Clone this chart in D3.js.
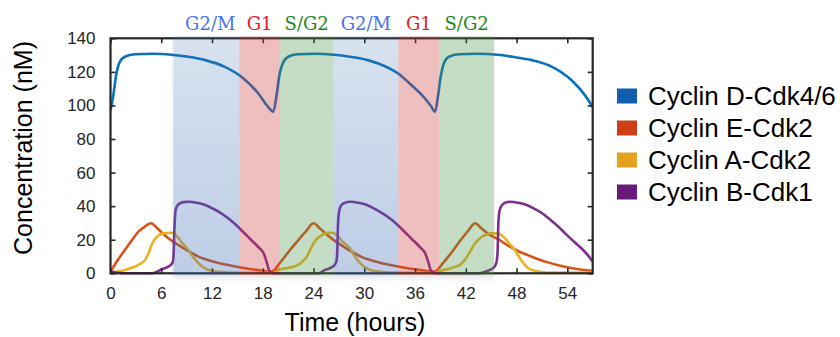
<!DOCTYPE html>
<html>
<head>
<meta charset="utf-8">
<script src="https://cdn.jsdelivr.net/npm/d3@7"></script>
<style>
  body { margin: 0; background: #fff; }
  svg { display: block; }
  text { font-family: "Liberation Sans", Arial, Helvetica, sans-serif; }
</style>
</head>
<body>
<svg id="chart" width="840" height="337"></svg>
<script>
// values: [hour, nM]
const cyclinD = [
  [0, 97], [0.3, 105], [0.7, 119], [1.1, 126], [1.7, 129], [2.9, 130.5], [5, 130.8],
  [7.2, 130.2], [9.2, 129], [11.2, 127], [13.5, 123], [15.5, 117], [17.5, 107],
  [18.65, 99], [19.25, 96.3],
  [19.6, 105], [20.0, 119], [20.4, 125.5], [21.0, 129], [22.1, 130.5], [24.2, 130.8],
  [26.4, 130.2], [28.3, 129], [30.4, 127], [31.65, 125], [34.0, 119], [35.6, 112],
  [37.2, 104], [37.9, 99.5], [38.36, 96.3],
  [38.7, 105], [39.0, 116], [39.4, 125], [40.0, 129], [41.2, 130.5], [43.3, 130.8],
  [45.8, 130.2], [47.5, 129], [49.8, 127], [52.2, 123], [54.5, 115], [56.1, 106], [57, 99]
];
const cyclinE = [
  [0, 1], [0.8, 7.5], [1.7, 13.9], [2.5, 19.5], [3.3, 24.8], [4.1, 28], [4.8, 29.8],
  [5.5, 27], [6.25, 23.4], [7.0, 20.3], [8.0, 16.9], [9.2, 13.2], [10.4, 9.9], [12, 7.2],
  [13.9, 4.9], [15.9, 3], [17.5, 1.9], [19.05, 1],
  [20.0, 6], [20.6, 9.9], [21.4, 15], [22.2, 19.8], [23.1, 25], [24.0, 29.8], [24.7, 27],
  [25.4, 23.8], [26.2, 20.5], [27.2, 16.9], [28.4, 13.2], [29.6, 9.9], [31.2, 7.2],
  [33.1, 4.9], [35.1, 3], [36.7, 1.9], [38.3, 1],
  [39.3, 6], [40.1, 11], [41.4, 19.8], [42.3, 25.5], [43.1, 29.8], [43.9, 26.5],
  [44.8, 23], [45.8, 20.3], [47.0, 16.5], [48.3, 13], [49.8, 9.9], [51.5, 6.8],
  [53.7, 3.9], [55.5, 2.3], [57, 1.5]
];
const cyclinA = [
  [0, 0.5], [1.7, 2], [3.3, 5], [4.1, 8], [4.5, 12], [4.9, 17.5], [5.5, 21.8], [6.25, 23.8],
  [7.2, 24.2], [7.8, 22.2], [8.5, 18], [9.2, 13.9], [9.8, 9.5], [10.4, 6], [11.0, 3.5],
  [11.6, 2], [12.5, 1], [13.9, 0.5], [19.1, 0.3],
  [19.8, 2], [21.0, 3.2], [22.2, 5], [22.8, 7.5], [23.2, 9.9], [23.6, 14], [24.0, 17.9],
  [24.5, 21], [25.0, 22.8], [25.6, 24], [26.2, 24.2], [26.8, 22.5], [27.5, 18.5],
  [28.3, 14.9], [28.9, 10], [29.5, 6], [30.1, 3.5], [30.7, 2], [31.6, 1], [33, 0.5], [38.3, 0.3],
  [39.0, 1.5], [40.3, 3.2], [41.3, 5], [41.9, 8], [42.4, 12], [43.1, 17.9], [43.7, 21],
  [44.3, 22.8], [45.0, 23.8], [45.8, 23.8], [46.4, 22], [47.1, 18], [47.8, 13.9],
  [48.5, 8], [49.4, 3], [50.3, 1.3], [51.5, 0.5], [57, 0.3]
];
const cyclinB = [
  [0, 1.2], [0.8, 0.3], [2, 0], [4.9, 0], [6.05, 2.4], [7.0, 4.5], [7.35, 6.5], [7.45, 10],
  [7.55, 25.8], [7.7, 37.7], [8.0, 41], [8.6, 42.4], [9.2, 42.6], [10.2, 42], [11.2, 40.7],
  [12.2, 38.3], [13.1, 35.7], [14.1, 32], [15.0, 28], [15.8, 24], [16.5, 20.5], [17.1, 17.6],
  [17.6, 15], [18.1, 11.9], [18.35, 8.5], [18.5, 6], [18.7, 2.5], [18.85, 1], [19.4, 0],
  [24.6, 0], [25.35, 2], [26.3, 4], [26.7, 7], [26.8, 12], [26.9, 30], [27.05, 37.5],
  [27.3, 40.7], [27.8, 42.2], [28.3, 42.6], [29.3, 42], [30.3, 40.7], [31.3, 38.2],
  [32.2, 35.5], [33.2, 32], [34.1, 28], [34.9, 24], [35.6, 20.5], [36.2, 17.6],
  [36.7, 15], [37.2, 11.9], [37.45, 8.5], [37.6, 6], [37.8, 2.5], [37.95, 1], [38.5, 0],
  [43.5, 0], [44.3, 1], [45.3, 3.4], [45.6, 6], [45.75, 12], [45.85, 30], [46.0, 37.5],
  [46.3, 40.7], [46.7, 42.2], [47.2, 42.6], [48.2, 42], [49.2, 40.7], [50.2, 38.2],
  [51.1, 35.5], [52.1, 31.5], [53.0, 27.5], [53.8, 23.5], [54.5, 20.2], [55.2, 17],
  [55.8, 14.2], [56.4, 11], [57, 7]
];

const seriesNames = ['Cyclin D-Cdk4/6', 'Cyclin E-Cdk2', 'Cyclin A-Cdk2', 'Cyclin B-Cdk1'];
const hourTicks = [0, 6, 12, 18, 24, 30, 36, 42, 48, 54];
const concTicks = [0, 20, 40, 60, 80, 100, 120, 140];

const phaseNames = ['G2/M', 'G1', 'S/G2', 'G2/M', 'G1', 'S/G2'];
const phaseStart = [7.42, 15.22, 20.04, 26.34, 34.02, 38.87];
const phaseEnd = [15.22, 20.04, 26.34, 34.02, 38.87, 45.33];

const lineColors = ['#0a72bd', '#d95319', '#edb120', '#7e2f8e'];
const legendColors = ['#115eaf', '#cc3e16', '#e3a21e', '#681a78'];
const phaseFill = {'G2/M': 'url(#g2mGrad)', 'G1': 'rgba(205,60,60,0.33)', 'S/G2': 'rgba(70,150,70,0.32)'};
const phaseText = {'G2/M': '#4a72f0', 'G1': '#e8161b', 'S/G2': '#1e8a1e'};
const axisColor = '#262626';

const svg = d3.select('#chart');
const x = d3.scaleLinear().domain([0, 57]).range([110.5, 592.7]);
const y = d3.scaleLinear().domain([0, 140]).range([273.3, 38.3]);

const defs = svg.append('defs');
defs.append('clipPath').attr('id', 'plotClip')
  .append('rect')
  .attr('x', x(0)).attr('y', y(140) - 2)
  .attr('width', x(57) - x(0)).attr('height', y(0) - y(140) + 4);

const grad = defs.append('linearGradient').attr('id', 'g2mGrad')
  .attr('x1', 0).attr('y1', 0).attr('x2', 0).attr('y2', 1);
grad.append('stop').attr('offset', '0%').attr('stop-color', 'rgb(60,110,180)').attr('stop-opacity', 0.2);
grad.append('stop').attr('offset', '100%').attr('stop-color', 'rgb(60,110,180)').attr('stop-opacity', 0.34);

defs.append('filter').attr('id', 'blur')
  .attr('x', '-10%').attr('y', '-10%').attr('width', '120%').attr('height', '120%')
  .append('feGaussianBlur').attr('stdDeviation', 2.5);

// series lines
const line = d3.line()
  .x((d) => x(d[0]))
  .y((d) => y(d[1]))
  .curve(d3.curveMonotoneX);

const lines = svg.append('g').attr('clip-path', 'url(#plotClip)');
[cyclinD, cyclinE, cyclinA, cyclinB].forEach((data, i) => {
  lines.append('path')
    .datum(data)
    .attr('d', line)
    .attr('fill', 'none')
    .attr('stroke', lineColors[i])
    .attr('stroke-width', 2.6)
    .attr('stroke-linejoin', 'round');
});

// axes, ticks pointing inward on all four sides
function styleAxis(g) {
  g.select('.domain').remove();
  g.attr('font-size', 17)
   .attr('font-family', '"Liberation Sans", Arial, sans-serif')
   .attr('color', axisColor);
  g.selectAll('.tick line').attr('stroke-width', 1.6);
}
svg.append('g')
  .attr('transform', 'translate(0,' + y(0) + ')')
  .call(d3.axisBottom(x).tickValues(hourTicks).tickSize(-5).tickPadding(14))
  .call(styleAxis);
svg.append('g')
  .attr('transform', 'translate(0,' + y(140) + ')')
  .call(d3.axisTop(x).tickValues(hourTicks).tickSize(-5).tickFormat(''))
  .call(styleAxis);
svg.append('g')
  .attr('transform', 'translate(' + x(0) + ',0)')
  .call(d3.axisLeft(y).tickValues(concTicks).tickSize(-5).tickPadding(15))
  .call(styleAxis);
svg.append('g')
  .attr('transform', 'translate(' + x(57) + ',0)')
  .call(d3.axisRight(y).tickValues(concTicks).tickSize(-5).tickFormat(''))
  .call(styleAxis);

svg.append('rect')
  .attr('x', x(0)).attr('y', y(140))
  .attr('width', x(57) - x(0)).attr('height', y(0) - y(140))
  .attr('fill', 'none')
  .attr('stroke', axisColor)
  .attr('stroke-width', 2.2);

// phase bands overlay the curves and axes
const bandTop = y(140) - 2;
const bandBottom = y(0) + 2;
const mask = defs.append('mask').attr('id', 'outside');
mask.append('rect').attr('x', 0).attr('y', 0).attr('width', 840).attr('height', 337).attr('fill', '#fff');
mask.append('rect')
  .attr('x', x(phaseStart[0])).attr('y', bandTop)
  .attr('width', x(phaseEnd[phaseEnd.length - 1]) - x(phaseStart[0]))
  .attr('height', bandBottom - bandTop)
  .attr('fill', '#000');
svg.append('g').attr('mask', 'url(#outside)')
  .append('rect')
  .attr('x', x(phaseStart[0])).attr('y', bandTop + 2)
  .attr('width', x(phaseEnd[phaseEnd.length - 1]) - x(phaseStart[0]))
  .attr('height', bandBottom - bandTop + 2)
  .attr('fill', '#000')
  .attr('opacity', 0.08)
  .attr('filter', 'url(#blur)');

const bands = svg.append('g');
bands.selectAll('rect')
  .data(phaseNames)
  .enter()
  .append('rect')
  .attr('x', (d, i) => x(phaseStart[i]))
  .attr('y', bandTop)
  .attr('width', (d, i) => x(phaseEnd[i]) - x(phaseStart[i]))
  .attr('height', bandBottom - bandTop)
  .attr('fill', (d) => phaseFill[d]);

bands.selectAll('text')
  .data(phaseNames)
  .enter()
  .append('text')
  .attr('x', (d, i) => (x(phaseStart[i]) + x(phaseEnd[i])) / 2 + (i === 0 ? 4 : 0))
  .attr('y', 30)
  .attr('text-anchor', 'middle')
  .style('font-family', '"DejaVu Serif", serif')
  .style('font-size', '18px')
  .attr('fill', (d) => phaseText[d])
  .text((d) => d);

// axis titles
svg.append('text')
  .attr('x', 355).attr('y', 331)
  .attr('text-anchor', 'middle')
  .style('font-size', '25px')
  .attr('fill', '#000')
  .text('Time (hours)');
svg.append('text')
  .attr('transform', 'translate(32,148) rotate(-90)')
  .attr('text-anchor', 'middle')
  .style('font-size', '25px')
  .attr('fill', '#000')
  .text('Concentration (nM)');

// legend
const legend = svg.append('g')
  .selectAll('g')
  .data(seriesNames)
  .enter()
  .append('g')
  .attr('transform', (d, i) => 'translate(617,' + (96 + i * 32) + ')');
legend.append('rect')
  .attr('x', 0).attr('y', -7.5)
  .attr('width', 20).attr('height', 15)
  .attr('fill', (d, i) => legendColors[i]);
legend.append('text')
  .attr('x', 31).attr('y', 0)
  .attr('dy', '0.36em')
  .style('font-size', '26px')
  .attr('fill', '#000')
  .text((d) => d);
</script>
</body>
</html>
